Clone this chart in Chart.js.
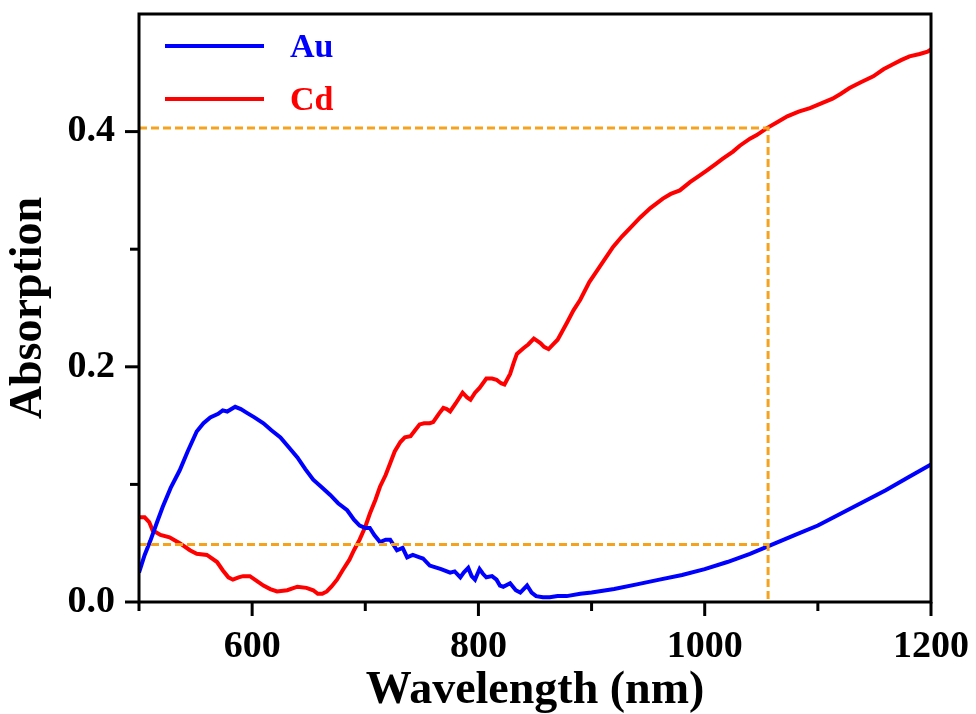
<!DOCTYPE html>
<html>
<head>
<meta charset="utf-8">
<title>Absorption</title>
<script src="https://cdn.jsdelivr.net/npm/chart.js@4.4.0/dist/chart.umd.min.js"></script>
<style>
  html, body { margin: 0; padding: 0; background: #fff; }
  #wrap { width: 976px; height: 714px; }
</style>
</head>
<body>
<div id="wrap"><canvas id="absChart" width="976" height="714"></canvas></div>
<script>
// Au spectrum (wavelength in nm, absorption)
const auWavelength = [500, 505, 510, 516, 521, 528, 536, 543, 551, 557, 563, 570, 574, 578, 585, 590, 595, 602, 610, 617,
  625, 632, 640, 647, 654, 661, 669, 676, 684, 690, 695, 700, 704, 708, 713, 718, 722, 728, 733, 737,
  742, 748, 751, 757, 760, 767, 775, 779, 784, 787, 791, 794, 797, 801, 804, 807, 812, 816, 819, 822,
  828, 833, 837, 843, 847, 851, 857, 863, 870, 878, 890, 900, 920, 940, 960, 980, 1000, 1020, 1040, 1060,
  1080, 1100, 1120, 1140, 1160, 1180, 1200];
const auAbs = [0.025, 0.040, 0.052, 0.068, 0.081, 0.097, 0.112, 0.128, 0.145, 0.152, 0.157, 0.160, 0.163, 0.162, 0.166, 0.164, 0.161, 0.157, 0.152, 0.146,
  0.140, 0.132, 0.123, 0.113, 0.104, 0.098, 0.091, 0.084, 0.078, 0.070, 0.065, 0.063, 0.063, 0.057, 0.051, 0.053, 0.053, 0.044, 0.046, 0.038,
  0.040, 0.038, 0.037, 0.031, 0.030, 0.028, 0.025, 0.026, 0.021, 0.025, 0.029, 0.022, 0.019, 0.028, 0.024, 0.021, 0.022, 0.019, 0.014, 0.013,
  0.016, 0.010, 0.008, 0.014, 0.008, 0.005, 0.004, 0.004, 0.005, 0.005, 0.007, 0.008, 0.011, 0.015, 0.019, 0.023, 0.028, 0.034, 0.041, 0.049,
  0.057, 0.065, 0.075, 0.085, 0.095, 0.106, 0.117];

// Cd spectrum
const cdWavelength = [500, 505, 509, 512, 519, 527, 536, 545, 551, 560, 569, 574, 579, 583, 588, 592, 598, 604, 610, 616,
  622, 631, 640, 648, 654, 658, 662, 666, 670, 675, 680, 686, 690, 695, 700, 704, 709, 713, 718, 722,
  726, 731, 735, 740, 744, 748, 752, 757, 760, 765, 769, 772, 775, 780, 786, 790, 793, 797, 801, 807,
  812, 816, 820, 823, 828, 831, 834, 840, 844, 849, 852, 855, 858, 862, 866, 870, 874, 878, 884, 890,
  898, 905, 912, 919, 927, 934, 943, 952, 963, 970, 978, 987, 996, 1002, 1009, 1016, 1025, 1031, 1040, 1046,
  1055, 1064, 1073, 1083, 1093, 1103, 1113, 1120, 1128, 1138, 1149, 1158, 1166, 1174, 1181, 1190, 1197, 1200];
const cdAbs = [0.072, 0.072, 0.068, 0.061, 0.057, 0.055, 0.050, 0.044, 0.041, 0.040, 0.034, 0.027, 0.021, 0.019, 0.021, 0.022, 0.022, 0.018, 0.014, 0.011,
  0.009, 0.010, 0.013, 0.012, 0.010, 0.007, 0.007, 0.009, 0.013, 0.019, 0.027, 0.036, 0.044, 0.053, 0.064, 0.075, 0.087, 0.098, 0.108, 0.118,
  0.128, 0.136, 0.140, 0.141, 0.146, 0.151, 0.152, 0.152, 0.153, 0.160, 0.165, 0.164, 0.162, 0.169, 0.178, 0.174, 0.172, 0.178, 0.182, 0.190,
  0.190, 0.189, 0.186, 0.185, 0.194, 0.203, 0.211, 0.216, 0.219, 0.224, 0.222, 0.220, 0.217, 0.215, 0.219, 0.223, 0.230, 0.237, 0.248, 0.257,
  0.272, 0.282, 0.292, 0.302, 0.311, 0.318, 0.327, 0.335, 0.343, 0.347, 0.350, 0.357, 0.363, 0.367, 0.372, 0.377, 0.383, 0.388, 0.394, 0.397,
  0.403, 0.408, 0.413, 0.417, 0.420, 0.424, 0.428, 0.432, 0.437, 0.442, 0.447, 0.453, 0.457, 0.461, 0.464, 0.466, 0.468, 0.470];

// dashed guide lines
const guideX = [500, 1056];
const guideUpper = 0.403;
const guideLower = 0.049;

const xTicks = [500, 600, 700, 800, 900, 1000, 1100, 1200];
const xTickLabels = [600, 800, 1000, 1200];
const yTicks = [0, 0.1, 0.2, 0.3, 0.4];
const yTickLabels = [0, 0.2, 0.4];

const serif = "'Liberation Serif', 'Times New Roman', serif";
const orange = "#F5A31E";

function pts(xs, ys) {
  return xs.map((x, i) => ({ x: x, y: ys[i] }));
}

// frame, ticks and legend
const framePlugin = {
  id: "framePlugin",
  afterDraw(chart) {
    const c = chart.ctx;
    const a = chart.chartArea;
    const xs = chart.scales.x;
    const ys = chart.scales.y;
    c.save();
    c.strokeStyle = "#000";
    c.lineWidth = 3;
    c.strokeRect(a.left, a.top, a.right - a.left, a.bottom - a.top);

    xTicks.forEach(v => {
      const px = xs.getPixelForValue(v);
      const len = xTickLabels.includes(v) ? 14 : 9;
      c.beginPath();
      c.moveTo(px, a.bottom);
      c.lineTo(px, a.bottom + len);
      c.stroke();
    });
    yTicks.forEach(v => {
      const py = ys.getPixelForValue(v);
      const len = yTickLabels.includes(v) ? 14 : 9;
      c.beginPath();
      c.moveTo(a.left, py);
      c.lineTo(a.left - len, py);
      c.stroke();
    });

    // legend
    const items = chart.data.datasets.filter(d => d.inLegend);
    c.font = "bold 34px " + serif;
    c.textBaseline = "middle";
    items.forEach((d, i) => {
      const y = 46 + i * 53;
      c.strokeStyle = d.borderColor;
      c.lineWidth = 4;
      c.beginPath();
      c.moveTo(165, y);
      c.lineTo(264, y);
      c.stroke();
      c.fillStyle = d.borderColor;
      c.fillText(d.label, 290, y + 2);
    });
    c.restore();
  }
};

const ctx = document.getElementById("absChart").getContext("2d");

const absChart = new Chart(ctx, {
  type: "line",
  data: {
    datasets: [
      {
        label: "guide upper",
        data: pts(guideX, [guideUpper, guideUpper]).concat([{ x: guideX[1], y: 0 }]),
        borderColor: orange,
        borderWidth: 3,
        borderDash: [8, 4],
        pointRadius: 0
      },
      {
        label: "guide lower",
        data: pts(guideX, [guideLower, guideLower]),
        borderColor: orange,
        borderWidth: 3,
        borderDash: [8, 4],
        pointRadius: 0
      },
      {
        label: "Au",
        inLegend: true,
        data: pts(auWavelength, auAbs),
        borderColor: "#0000FF",
        borderWidth: 4,
        pointRadius: 0,
        tension: 0
      },
      {
        label: "Cd",
        inLegend: true,
        data: pts(cdWavelength, cdAbs),
        borderColor: "#FF0000",
        borderWidth: 4,
        pointRadius: 0,
        tension: 0
      }
    ]
  },
  options: {
    responsive: false,
    animation: false,
    layout: { padding: { left: 0, right: 45, top: 14, bottom: 0 } },
    plugins: {
      legend: { display: false },
      tooltip: { enabled: false }
    },
    scales: {
      x: {
        type: "linear",
        min: 500,
        max: 1200,
        afterFit: s => {
          s.height = 112;
          s.paddingLeft = 0;
          s.paddingRight = 0;
        },
        grid: { display: false, drawTicks: false },
        border: { display: false },
        ticks: {
          stepSize: 100,
          padding: 22,
          color: "#000",
          font: { family: serif, size: 38, weight: "bold" },
          callback: v => xTickLabels.includes(v) ? String(v) : ""
        },
        title: {
          display: true,
          text: "Wavelength (nm)",
          color: "#000",
          font: { family: serif, size: 46, weight: "bold", lineHeight: 1.0 },
          padding: { top: 0, bottom: 0 }
        }
      },
      y: {
        min: 0,
        max: 0.5,
        afterFit: s => {
          s.width = 139;
          s.paddingTop = 0;
          s.paddingBottom = 0;
        },
        grid: { display: false, drawTicks: false },
        border: { display: false },
        ticks: {
          stepSize: 0.1,
          padding: 24,
          color: "#000",
          font: { family: serif, size: 38, weight: "bold" },
          callback: v => {
            const r = Math.round(v * 10) / 10;
            return yTickLabels.includes(r) ? r.toFixed(1) : "";
          }
        },
        title: {
          display: true,
          text: "Absorption",
          color: "#000",
          font: { family: serif, size: 46, weight: "bold" },
          padding: { top: 2, bottom: 0 }
        }
      }
    }
  },
  plugins: [framePlugin]
});
</script>
</body>
</html>
